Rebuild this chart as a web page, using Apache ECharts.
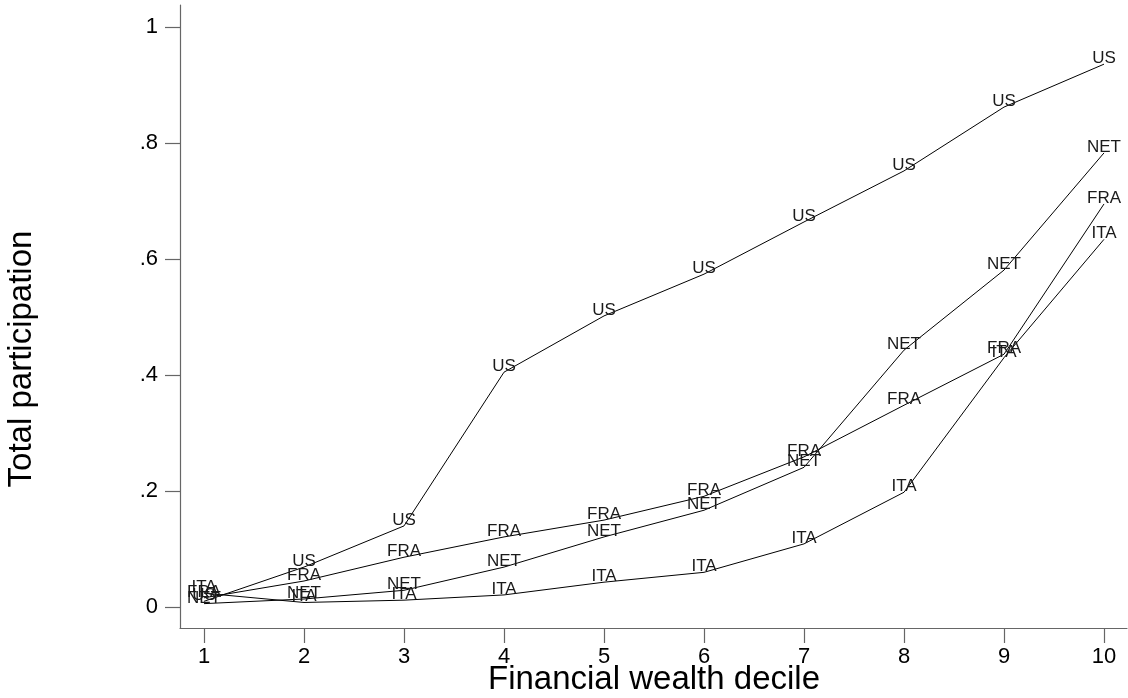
<!DOCTYPE html>
<html>
<head>
<meta charset="utf-8">
<script src="https://cdn.jsdelivr.net/npm/echarts@6/dist/echarts.min.js"></script>
<style>
  html, body { margin: 0; padding: 0; background: #fff; }
  #chart { width: 1128px; height: 698px; }
</style>
</head>
<body>
<div id="chart"></div>
<script>
// Financial wealth deciles
const deciles = [1, 2, 3, 4, 5, 6, 7, 8, 9, 10];

// Share of households participating in risky assets, by decile
const usValues  = [0.010, 0.069, 0.140, 0.405, 0.502, 0.574, 0.664, 0.752, 0.862, 0.936];
const fraValues = [0.016, 0.045, 0.086, 0.121, 0.150, 0.191, 0.259, 0.348, 0.436, 0.695];
const netValues = [0.006, 0.014, 0.029, 0.069, 0.121, 0.167, 0.241, 0.443, 0.581, 0.783];
const itaValues = [0.024, 0.008, 0.012, 0.021, 0.043, 0.060, 0.109, 0.198, 0.430, 0.634];

const seriesNames = ['US', 'FRA', 'NET', 'ITA'];
const seriesValues = [usValues, fraValues, netValues, itaValues];

// Tick positions
const xTicks = [1, 2, 3, 4, 5, 6, 7, 8, 9, 10];
const yTicks = [0, 0.2, 0.4, 0.6, 0.8, 1];

// Axis titles
const xTitle = 'Financial wealth decile';
const yTitle = 'Total participation';

const FONT = '"Liberation Sans", Arial, Helvetica, sans-serif';
const AXIS_COLOR = '#666';

function yTickText(v) {
  if (Math.abs(v) < 1e-9) return '0';
  if (Math.abs(v - 1) < 1e-9) return '1';
  return '.' + Math.round(v * 10);
}

const chart = echarts.init(document.getElementById('chart'), null, { renderer: 'canvas' });

// Each country is a thin black line with its code written at every decile point,
// the text sitting on the point like a baseline
const series = seriesNames.map((name, i) => ({
  name: name,
  type: 'line',
  data: deciles.map((d, j) => [d, seriesValues[i][j]]),
  showSymbol: true,
  showAllSymbol: true,
  symbol: 'circle',
  symbolSize: 0.5,
  lineStyle: { color: '#000', width: 1 },
  itemStyle: { color: 'rgba(0,0,0,0)', borderWidth: 0 },
  silent: true,
  animation: false,
  label: {
    show: true,
    position: 'top',
    distance: -3,
    formatter: name,
    color: '#1a1a1a',
    fontFamily: FONT,
    fontSize: 17
  },
  labelLayout: { hideOverlap: false }
}));

chart.setOption({
  animation: false,
  backgroundColor: '#fff',
  grid: { left: 180, right: 1, top: 5, bottom: 70, containLabel: false, outerBoundsMode: 'none' },
  xAxis: {
    type: 'value',
    min: 0.76,
    max: 10.23,
    axisLine: { show: true, onZero: false, lineStyle: { color: AXIS_COLOR, width: 1.2 } },
    axisTick: { show: true, length: 15, customValues: xTicks, lineStyle: { color: AXIS_COLOR, width: 1.2 } },
    axisLabel: { customValues: xTicks, margin: 18, fontFamily: FONT, fontSize: 22, color: '#000', formatter: v => String(v) },
    splitLine: { show: false }
  },
  yAxis: {
    type: 'value',
    min: -0.036,
    max: 1.038,
    axisLine: { show: true, onZero: false, lineStyle: { color: AXIS_COLOR, width: 1.2 } },
    axisTick: { show: true, length: 15, customValues: yTicks, lineStyle: { color: AXIS_COLOR, width: 1.2 } },
    axisLabel: { customValues: yTicks, margin: 22, fontFamily: FONT, fontSize: 22, color: '#000', formatter: yTickText },
    splitLine: { show: false }
  },
  graphic: [
    {
      type: 'text',
      x: 654, y: 680,
      style: { text: xTitle, fontFamily: FONT, fontSize: 33, fill: '#000', align: 'center', verticalAlign: 'middle' },
      silent: true
    },
    {
      type: 'text',
      x: 22, y: 359,
      rotation: Math.PI / 2,
      style: { text: yTitle, fontFamily: FONT, fontSize: 33, fill: '#000', align: 'center', verticalAlign: 'middle' },
      silent: true
    }
  ],
  series: series
});
</script>
</body>
</html>
